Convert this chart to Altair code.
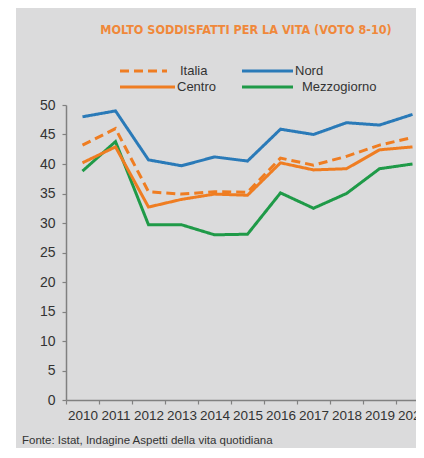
import altair as alt
import pandas as pd

anni = list(range(2010, 2021))
serie_nomi = ["Italia", "Nord", "Centro", "Mezzogiorno"]
italia = [43.2, 46.0, 35.3, 34.9, 35.3, 35.2, 41.0, 39.8, 41.3, 43.2, 44.5]
nord = [48.0, 49.0, 40.7, 39.7, 41.2, 40.5, 45.9, 45.0, 47.0, 46.6, 48.4]
centro = [40.2, 42.9, 32.7, 34.0, 34.9, 34.7, 40.2, 39.0, 39.2, 42.4, 42.9]
mezzogiorno = [38.8, 43.8, 29.7, 29.7, 28.0, 28.1, 35.1, 32.5, 35.0, 39.2, 40.0]
y_ticks = list(range(0, 55, 5))

titolo = "MOLTO SODDISFATTI PER LA VITA (VOTO 8-10)"
fonte = "Fonte: Istat, Indagine Aspetti della vita quotidiana"

colori = ["#ef7d22", "#2a7ab8", "#ef7d22", "#1f9a48"]
tratti = [[9, 5], [1, 0], [1, 0], [1, 0]]

valori = {"Italia": italia, "Nord": nord, "Centro": centro, "Mezzogiorno": mezzogiorno}
rows = []
for s in ["Nord", "Mezzogiorno", "Centro", "Italia"]:
    for a, v in zip(anni, valori[s]):
        rows.append({"anno": a, "valore": v, "serie": s})
df = pd.DataFrame(rows)

W, H = 350, 295
GRAY = "#dbdbdc"
TXT = "#333333"
AX = "#808080"

one = alt.Data(values=[{"a": 1}])

panel = alt.Chart(one).mark_rect(color=GRAY).encode(
    x=alt.value(-50), x2=alt.value(W), y=alt.value(-97), y2=alt.value(343)
)

axis_common = dict(
    title=None, grid=False, tickSize=4, labelColor=TXT, labelFont="Liberation Sans",
    domainColor=AX, tickColor=AX, domainWidth=1.5, tickWidth=1.2, zindex=1,
)

lines = alt.Chart(df).mark_line(strokeWidth=3).encode(
    x=alt.X(
        "anno:Q",
        scale=alt.Scale(domain=[2009.5, 2009.5 + W / 33.0], nice=False, zero=False),
        axis=alt.Axis(
            values=[a - 0.5 for a in anni],
            labelExpr="format(datum.value + 0.5, 'd')",
            labelOffset=16.5, labelOverlap=False, labelFlush=False, labelBound=False,
            labelPadding=4, labelFontSize=13.5, **axis_common,
        ),
    ),
    y=alt.Y(
        "valore:Q",
        scale=alt.Scale(domain=[0, 50], nice=False),
        axis=alt.Axis(values=y_ticks, labelPadding=7, labelFontSize=14, **axis_common),
    ),
    color=alt.Color("serie:N", scale=alt.Scale(domain=serie_nomi, range=colori), legend=None),
    strokeDash=alt.StrokeDash("serie:N", scale=alt.Scale(domain=serie_nomi, range=tratti), legend=None),
)

# manual legend (decoration): line sample + label per entry
leg_pos = {
    "Italia": (54, 101, 114, -34),
    "Nord": (176, 227, 229, -34),
    "Centro": (54, 109, 111, -18),
    "Mezzogiorno": (176, 227, 236, -18),
}
leg_layers = []
for nome, col, dash in zip(serie_nomi, colori, tratti):
    x1, x2, xt, yy = leg_pos[nome]
    leg_layers.append(
        alt.Chart(one).mark_rule(color=col, strokeWidth=3, strokeDash=dash).encode(
            x=alt.value(x1), x2=alt.value(x2), y=alt.value(yy)
        )
    )
    leg_layers.append(
        alt.Chart(alt.Data(values=[{"t": nome}])).mark_text(
            align="left", baseline="middle", fontSize=13, color=TXT, font="Liberation Sans"
        ).encode(text="t:N", x=alt.value(xt), y=alt.value(yy))
    )

title_mark = alt.Chart(alt.Data(values=[{"t": titolo}])).mark_text(
    align="center", baseline="alphabetic", fontSize=12.5, font="DejaVu Sans Condensed, Liberation Sans, sans-serif",
    fontWeight="bold", color="#f0883a",
).encode(text="t:N", x=alt.value(180), y=alt.value(-71))

footer = alt.Chart(alt.Data(values=[{"t": fonte}])).mark_text(
    align="left", baseline="middle", fontSize=11.5, color=TXT, font="Liberation Sans"
).encode(text="t:N", x=alt.value(-44), y=alt.value(336))

chart = alt.layer(panel, lines, *leg_layers, title_mark, footer).properties(
    width=W, height=H,
    autosize=alt.AutoSizeParams(type="none"),
    padding={"left": 58, "top": 97, "right": 0, "bottom": 48},
).configure(background="white").configure_view(stroke=None)

chart.save("out.html", embed_options={"renderer": "svg", "actions": False})
